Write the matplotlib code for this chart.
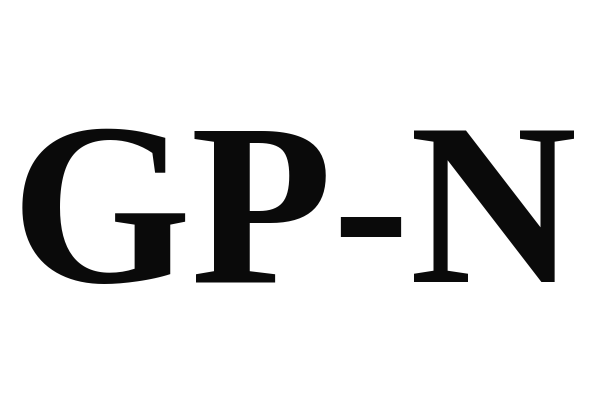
import matplotlib
matplotlib.use("Agg")
import matplotlib.pyplot as plt
from matplotlib import font_manager

# Text of the logo
label = "GP-N"

fp = font_manager.FontProperties(family="Liberation Serif", weight="bold", size=167)

fig = plt.figure(figsize=(6, 4), dpi=100)
fig.patch.set_facecolor("white")

fig.text(0.49, 0.295, label, ha="center", va="baseline",
         fontproperties=fp, color="#0a0a0a")

fig.savefig("out.png", dpi=100, facecolor="white")
